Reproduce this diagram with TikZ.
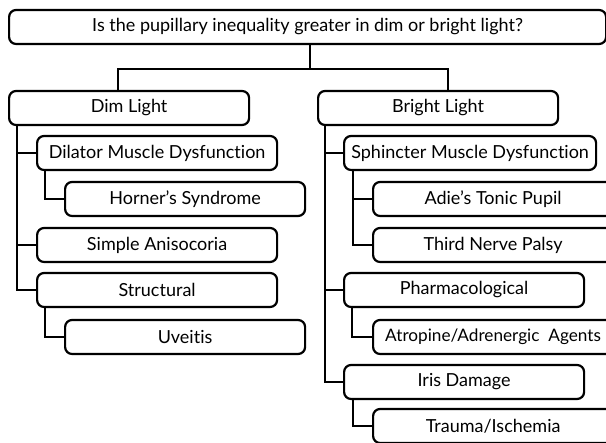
\documentclass[tikz,border=0pt]{standalone}
\usepackage{fontspec}
\setmainfont{Lato}[Ligatures={NoCommon}]
\tikzset{
  qbox/.style={draw, line width=2.2pt, rounded corners=7pt, minimum width=240pt,
    minimum height=34pt, inner xsep=6pt, anchor=west, font=\fontsize{18}{20}\selectfont},
  link/.style={line width=2.2pt}
}
\begin{document}
\begin{tikzpicture}[x=1pt,y=-1pt]
		\useasboundingbox (0,0) rectangle (606,443);
		% question
		\node[qbox, minimum width=597pt] (top) at (8,27) {Is the pupillary inequality greater in dim or bright light?};
		% dim light side
		\node[qbox] (dim) at (8,108) {Dim Light};
		\node[qbox] (dilator) at (36,153) {Dilator Muscle Dysfunction};
		\node[qbox] (horner) at (64,199) {Horner’s Syndrome};
		\node[qbox] (simple) at (36,245) {Simple Anisocoria};
		\node[qbox] (structural) at (36,290) {Structural};
		\node[qbox] (uveitis) at (64,337) {Uveitis};
		% bright light side
		\node[qbox] (bright) at (317,108) {Bright Light};
		\node[qbox, minimum width=252pt, inner xsep=4pt] (sphincter) at (343,153) {Sphincter Muscle Dysfunction};
		\node[qbox] (adie) at (372,199) {Adie’s Tonic Pupil};
		\node[qbox] (third) at (372,245) {Third Nerve Palsy};
		\node[qbox] (pharma) at (343,290) {Pharmacological};
		\node[qbox, font=\fontsize{17.2}{19}\selectfont, inner xsep=4pt] (atropine) at (372,337) {Atropine/Adrenergic\ \ Agents};
		\node[qbox] (iris) at (343,382) {Iris Damage};
		\node[qbox] (trauma) at (372,426) {Trauma/Ischemia};
		% connectors
		\coordinate (split) at (310,69);
		\draw[link] (split |- top.south) -- (split);
		\draw[link] ([xshift=-11pt]dim.north) |- (split) -| ([xshift=10pt]bright.north);
		\coordinate (dimtrunk) at ([xshift=9pt]dim.south west);
		\coordinate (brighttrunk) at ([xshift=8pt]bright.south west);
		\foreach \kid in {dilator,simple,structural}
			\draw[link] (dimtrunk) |- (\kid.west);
		\foreach \kid in {sphincter,pharma,iris}
			\draw[link] (brighttrunk) |- (\kid.west);
		\draw[link] ([xshift=9pt]dilator.south west) |- (horner.west);
		\draw[link] ([xshift=9pt]structural.south west) |- (uveitis.west);
		\draw[link] ([xshift=10pt]sphincter.south west) |- (adie.west);
		\draw[link] ([xshift=10pt]sphincter.south west) |- (third.west);
		\draw[link] ([xshift=9pt]pharma.south west) |- (atropine.west);
		\draw[link] ([xshift=10pt]iris.south west) |- (trauma.west);
\end{tikzpicture}
\end{document}
